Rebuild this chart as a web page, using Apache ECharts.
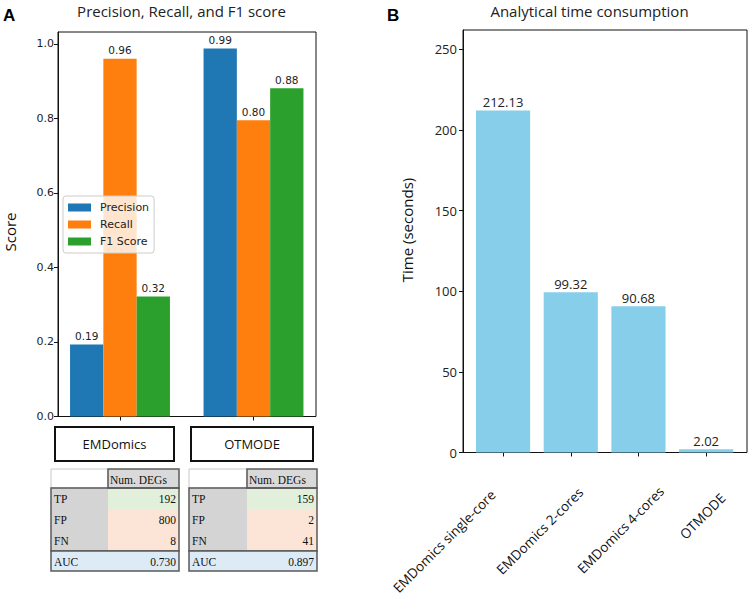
<!DOCTYPE html>
<html><head><meta charset="utf-8">
<script src="https://cdn.jsdelivr.net/npm/echarts@6/dist/echarts.min.js"></script>
<style>html,body{margin:0;padding:0;background:#fff}#c{width:750px;height:600px}</style>
</head><body><div id="c"></div>
<script>
// ---------- data ----------
const groupsA = ['EMDomics', 'OTMODE'];
const metricNames = ['Precision', 'Recall', 'F1 Score'];
const precisionVals = [0.1935, 0.9876];
const recallVals = [0.96, 0.795];
const f1Vals = [0.3221, 0.8809];
const scoreTicks = [0, 0.2, 0.4, 0.6, 0.8, 1.0];
const tableHeader = 'Num. DEGs';
const tableRows = ['TP', 'FP', 'FN', 'AUC'];
const emdomicsCounts = ['192', '800', '8', '0.730'];
const otmodeCounts = ['159', '2', '41', '0.897'];
const methodsB = ['EMDomics single-core', 'EMDomics 2-cores', 'EMDomics 4-cores', 'OTMODE'];
const timeVals = [212.13, 99.32, 90.68, 2.02];
const timeTicks = [0, 50, 100, 150, 200, 250];

// ---------- styles ----------
const metricColors = ['#1f77b4', '#ff7f0e', '#2ca02c'];
const labelPads = [[42.4, 35.3], [67.2, 19.4], [84.4, 9.5], [85, 18.7]];
const DJ = 'DejaVu Sans';
const OS = '"Open Sans"';
const ink = '#222';

const chart = echarts.init(document.getElementById('c'), null, {renderer: 'svg', width: 750, height: 600});

function tableGraphics(x0, xs, x1, vals) {
  const ys = [469, 488, 509, 530, 551, 571];
  const dark = '#5a5a5a';
  const g = [];
  const font = '11.5px "Liberation Serif"';
  g.push({type: 'rect', shape: {x: x0, y: ys[0], width: xs - x0, height: ys[1] - ys[0]}, style: {fill: '#fff', stroke: '#c8c8c8', lineWidth: 1}, z2: 1});
  g.push({type: 'rect', shape: {x: x0, y: ys[1], width: xs - x0, height: ys[4] - ys[1]}, style: {fill: '#d4d4d4'}, z2: 1});
  const cellFill = ['#e2efda', '#fce4d6', '#fce4d6'];
  for (let r = 0; r < 3; r++) {
    g.push({type: 'rect', shape: {x: xs, y: ys[r + 1], width: x1 - xs, height: ys[r + 2] - ys[r + 1]}, style: {fill: cellFill[r]}, z2: 1});
  }
  g.push({type: 'rect', shape: {x: xs, y: ys[0], width: x1 - xs, height: ys[1] - ys[0]}, style: {fill: '#d9d9d9', stroke: dark, lineWidth: 1.5}, z2: 2});
  g.push({type: 'rect', shape: {x: x0, y: ys[1], width: x1 - x0, height: ys[4] - ys[1]}, style: {fill: 'none', stroke: dark, lineWidth: 1.5}, z2: 3});
  g.push({type: 'rect', shape: {x: x0, y: ys[4], width: x1 - x0, height: ys[5] - ys[4]}, style: {fill: '#ddebf7', stroke: dark, lineWidth: 1.5}, z2: 3});
  g.push({type: 'text', x: xs + 2, y: (ys[0] + ys[1]) / 2 + 1, style: {text: tableHeader, font: font, fill: '#111', align: 'left', verticalAlign: 'middle'}, z2: 5});
  for (let r = 0; r < 4; r++) {
    const cy = (ys[r + 1] + ys[r + 2]) / 2 + 0.5;
    g.push({type: 'text', x: x0 + 3, y: cy, style: {text: tableRows[r], font: font, fill: '#111', align: 'left', verticalAlign: 'middle'}, z2: 5});
    g.push({type: 'text', x: x1 - 3, y: cy, style: {text: vals[r], font: font, fill: '#111', align: 'right', verticalAlign: 'middle'}, z2: 5});
  }
  return g;
}

function boxGraphic(x, w, label) {
  return [
    {type: 'rect', shape: {x: x, y: 427, width: w, height: 34}, style: {fill: '#fff', stroke: '#111', lineWidth: 2}, z2: 1},
    {type: 'text', x: x + w / 2, y: 444, style: {text: label, font: '13px ' + OS, fill: '#111', align: 'center', verticalAlign: 'middle'}, z2: 2}
  ];
}

const graphics = [
  {type: 'text', x: 3, y: 15, style: {text: 'A', font: 'bold 17px "Liberation Sans"', fill: '#000', align: 'left', verticalAlign: 'middle'}},
  {type: 'text', x: 387, y: 15, style: {text: 'B', font: 'bold 17px "Liberation Sans"', fill: '#000', align: 'left', verticalAlign: 'middle'}},
  {type: 'text', x: 181.5, y: 11, style: {text: 'Precision, Recall, and F1 score', font: '15px ' + OS, fill: ink, align: 'center', verticalAlign: 'middle'}},
  {type: 'text', x: 589.5, y: 11, style: {text: 'Analytical time consumption', font: '15px ' + OS, fill: ink, align: 'center', verticalAlign: 'middle'}},
  {type: 'text', x: 10, y: 232, rotation: Math.PI / 2, style: {text: 'Score', font: '15px ' + OS, fill: '#111', align: 'center', verticalAlign: 'middle'}},
  {type: 'text', x: 407, y: 230, rotation: Math.PI / 2, style: {text: 'Time (seconds)', font: '15px ' + OS, fill: '#111', align: 'center', verticalAlign: 'middle'}}
].concat(boxGraphic(55, 119, groupsA[0]), boxGraphic(191, 122, groupsA[1]),
  tableGraphics(51, 108, 179, emdomicsCounts), tableGraphics(189, 247, 317, otmodeCounts));

const valsA = [precisionVals, recallVals, f1Vals];
const seriesA = metricNames.map((n, i) => ({
  type: 'bar', name: n, xAxisIndex: 1, yAxisIndex: 1, data: valsA[i],
  barWidth: 33.3, barGap: '0%', itemStyle: {color: metricColors[i]},
  label: {show: true, position: 'top', distance: 3, formatter: p => p.value.toFixed(2), fontSize: 10.5, fontFamily: DJ, color: ink}
}));

const axisLineStyle = {color: '#111', width: 1};

const richB = {};
labelPads.forEach((p, i) => {
  richB['p' + i] = {padding: [p[0], p[1], 0, 0], fontSize: 13.5, fontFamily: OS, color: '#111'};
});

const option = {
  animation: false,
  backgroundColor: '#fff',
  graphic: {elements: graphics},
  legend: {
    data: metricNames, orient: 'vertical', left: 63, top: 196, icon: 'rect',
    itemWidth: 23, itemHeight: 8, itemGap: 4,
    padding: [5, 5, 5, 5], backgroundColor: 'rgba(255,255,255,0.8)', borderColor: '#cccccc', borderWidth: 1, borderRadius: 3,
    textStyle: {fontSize: 11, fontFamily: DJ, color: ink, lineHeight: 13, padding: [0, 0, 0, 4]},
    selectedMode: false, z: 10
  },
  grid: [
    {left: 58, top: 32, width: 258, height: 384.5, show: true, borderColor: '#111', borderWidth: 1, backgroundColor: 'transparent'},
    {left: 53.25, top: 32, width: 267, height: 384.5},
    {left: 463, top: 30, width: 284, height: 422.5, show: true, borderColor: '#111', borderWidth: 1, backgroundColor: 'transparent'},
    {left: 469.2, top: 30, width: 270.8, height: 422.5}
  ],
  xAxis: [
    {gridIndex: 0, type: 'value', show: false, min: 0, max: 1},
    {gridIndex: 1, type: 'category', data: groupsA, axisLine: {show: false},
      axisTick: {show: true, alignWithLabel: true, length: 4, lineStyle: axisLineStyle},
      axisLabel: {show: false}, splitLine: {show: false}},
    {gridIndex: 2, type: 'value', show: false, min: 0, max: 1},
    {gridIndex: 3, type: 'category', data: methodsB,
      axisLine: {show: false},
      axisTick: {show: true, alignWithLabel: true, length: 4, lineStyle: axisLineStyle},
      axisLabel: {show: true, interval: 0, rotate: 45, margin: 0, fontSize: 13.5, fontFamily: OS, color: '#111',
        formatter: (v, i) => '{p' + i + '|' + v + '}', rich: richB},
      splitLine: {show: false}}
  ],
  yAxis: [
    {gridIndex: 0, type: 'value', min: 0, max: 1.032,
      axisLine: {show: true, lineStyle: axisLineStyle},
      axisTick: {show: true, length: 4, customValues: scoreTicks, lineStyle: axisLineStyle},
      axisLabel: {customValues: scoreTicks, formatter: v => v.toFixed(1), fontSize: 11, fontFamily: DJ, color: ink, margin: 4},
      splitLine: {show: false}},
    {gridIndex: 1, type: 'value', min: 0, max: 1.032, show: false, splitLine: {show: false}},
    {gridIndex: 2, type: 'value', min: 0, max: 262,
      axisLine: {show: true, lineStyle: axisLineStyle},
      axisTick: {show: true, length: 4, customValues: timeTicks, lineStyle: axisLineStyle},
      axisLabel: {customValues: timeTicks, fontSize: 13, fontFamily: OS, color: ink, margin: 6},
      splitLine: {show: false}},
    {gridIndex: 3, type: 'value', min: 0, max: 262, show: false, splitLine: {show: false}}
  ],
  series: seriesA.concat([{
    type: 'bar', name: 'Time', xAxisIndex: 3, yAxisIndex: 3, data: timeVals, barWidth: '80%',
    itemStyle: {color: '#87ceeb'},
    label: {show: true, position: 'top', distance: 2, formatter: p => p.value.toFixed(2), fontSize: 13, fontFamily: OS, color: ink}
  }])
};
chart.setOption(option);
</script></body></html>
